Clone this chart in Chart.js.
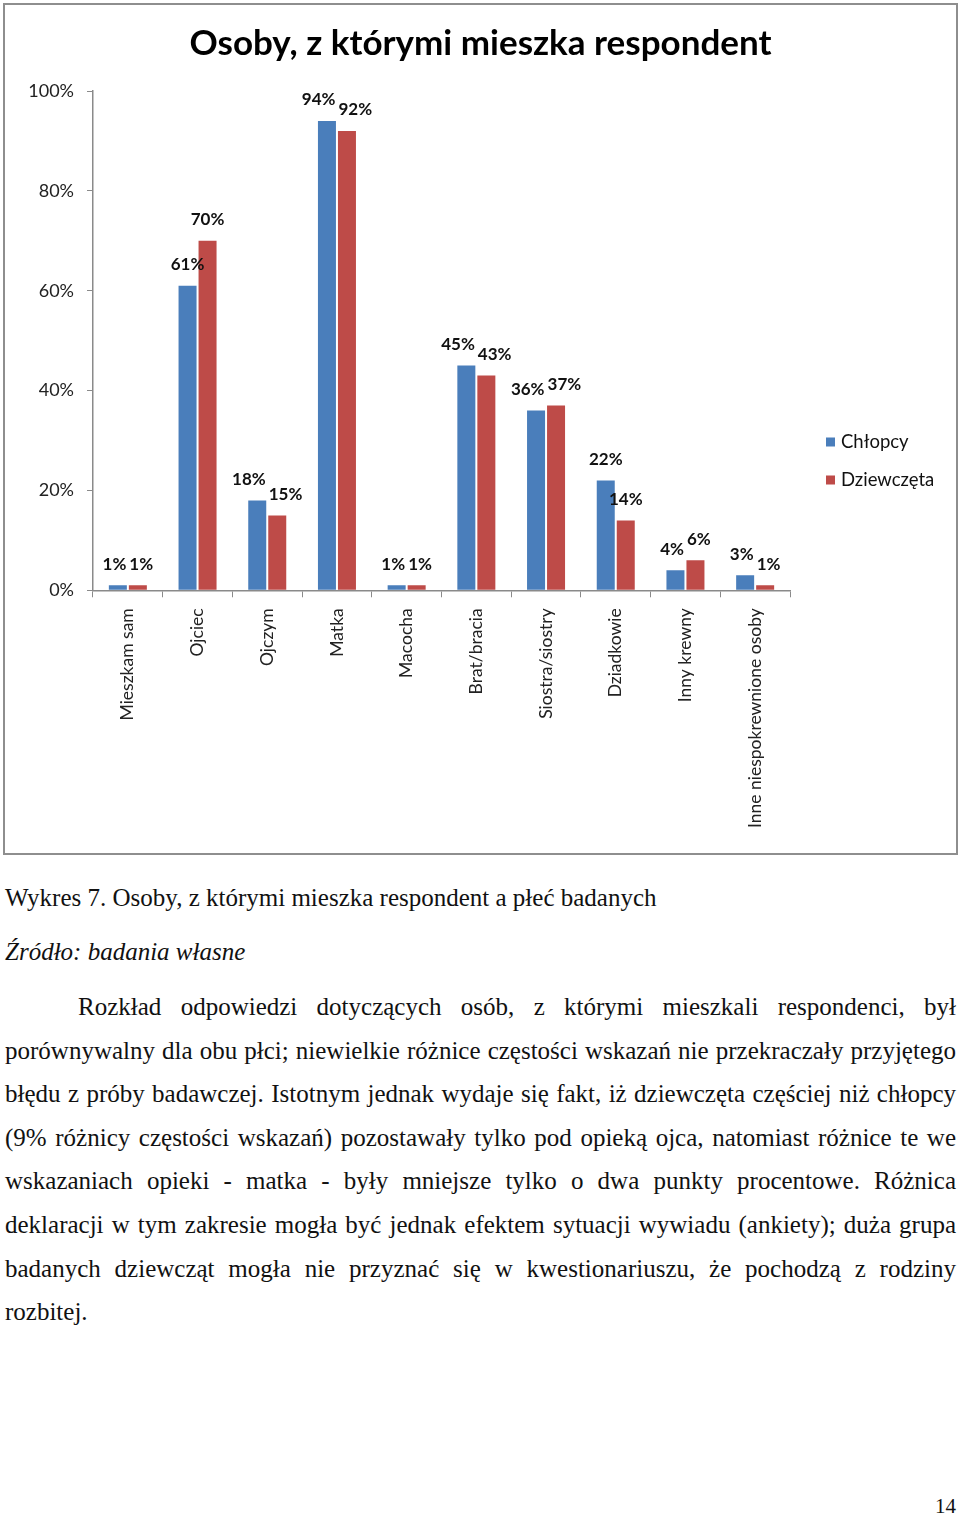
<!DOCTYPE html>
<html lang="pl">
<head>
<meta charset="utf-8">
<script src="https://cdn.jsdelivr.net/npm/chart.js@4.4.1/dist/chart.umd.min.js"></script>
<style>
  body { margin: 0; background: #fff; width: 960px; height: 1517px; position: relative; overflow: hidden; }
  #box { position: absolute; left: 3px; top: 3px; width: 951px; height: 848px; border: 2px solid #8e8e8e; }
  #box canvas { display: block; }
  .doc { position: absolute; left: 5px; width: 951px; font-family: "Liberation Serif", "Times New Roman", serif; font-size: 25px; color: #111; white-space: nowrap; }
  .cap { line-height: 30px; }
  .para div { line-height: 43.6px; text-align: justify; text-align-last: justify; word-spacing: -2px; }
  .para div.last { text-align-last: left; word-spacing: 0; }
  #page { position: absolute; right: 4px; top: 1494px; font-family: "Liberation Serif", serif; font-size: 21px; color: #111; }
</style>
</head>
<body>
<div id="box"><canvas id="chart" width="951" height="848"></canvas></div>

<div class="doc cap" style="top:883px">Wykres 7. Osoby, z którymi mieszka respondent a płeć badanych</div>
<div class="doc cap" style="top:937px"><i>Źródło: badania własne</i></div>
<div class="doc para" style="top:985px">
  <div style="padding-left:73px">Rozkład odpowiedzi dotyczących osób, z którymi mieszkali respondenci, był</div>
  <div>porównywalny dla obu płci; niewielkie różnice częstości wskazań nie przekraczały przyjętego</div>
  <div>błędu z próby badawczej. Istotnym jednak wydaje się fakt, iż dziewczęta częściej niż chłopcy</div>
  <div>(9% różnicy częstości wskazań) pozostawały tylko pod opieką ojca, natomiast różnice te we</div>
  <div>wskazaniach opieki - matka - były mniejsze tylko o dwa punkty procentowe. Różnica</div>
  <div>deklaracji w tym zakresie mogła być jednak efektem sytuacji wywiadu (ankiety); duża grupa</div>
  <div>badanych dziewcząt mogła nie przyznać się w kwestionariuszu, że pochodzą z rodziny</div>
  <div class="last">rozbitej.</div>
</div>
<div id="page">14</div>

<script>
const categories = ["Mieszkam sam", "Ojciec", "Ojczym", "Matka", "Macocha",
  "Brat/bracia", "Siostra/siostry", "Dziadkowie", "Inny krewny", "Inne niespokrewnione osoby"];
const boys = [1, 61, 18, 94, 1, 45, 36, 22, 4, 3];
const girls = [1, 70, 15, 92, 1, 43, 37, 14, 6, 1];
const yTicks = [0, 20, 40, 60, 80, 100];
const chartTitle = "Osoby, z którymi mieszka respondent";

const blue = "#4a7ebb";
const red = "#be4b48";
const axisGray = "#8a8a8a";

// value labels above the bars, pushed apart sideways when a pair collides
const barLabels = {
  id: "barLabels",
  afterDatasetsDraw(chart) {
    const ctx = chart.ctx;
    const m0 = chart.getDatasetMeta(0), m1 = chart.getDatasetMeta(1);
    ctx.save();
    ctx.font = "bold 17px Lato";
    ctx.fillStyle = "#111";
    ctx.textAlign = "center";
    ctx.textBaseline = "middle";
    categories.forEach((c, i) => {
      const a = m0.data[i], b = m1.data[i];
      const ta = boys[i] + "%", tb = girls[i] + "%";
      let xa = a.x, xb = b.x;
      const ya = a.y - 21, yb = b.y - 21;
      const wa = ctx.measureText(ta).width, wb = ctx.measureText(tb).width;
      if (Math.abs(ya - yb) < 16) {
        const need = (wa + wb) / 2 + 3 - (xb - xa);
        if (need > 0) { xa -= need / 2; xb += need / 2; }
      }
      ctx.fillText(ta, xa, ya);
      ctx.fillText(tb, xb, yb);
    });
    ctx.restore();
  }
};

// title centred on the whole box, legend on the right like the Excel one
const frame = {
  id: "frame",
  afterDraw(chart) {
    const ctx = chart.ctx;
    const area = chart.chartArea;
    ctx.save();
    ctx.fillStyle = "#000";
    ctx.font = "bold 35px Lato";
    ctx.textAlign = "center";
    ctx.textBaseline = "middle";
    ctx.fillText(chartTitle, chart.width / 2, 39);

    const x = area.right + 36;
    ctx.font = "18.5px Lato";
    ctx.textAlign = "left";
    chart.data.datasets.forEach((ds, i) => {
      const y = area.top + 351 + i * 38;
      ctx.fillStyle = ds.backgroundColor;
      ctx.fillRect(x, y - 4.5, 9, 9);
      ctx.fillStyle = "#111";
      ctx.fillText(ds.label, x + 15, y);
    });
    ctx.restore();
  }
};

new Chart(document.getElementById("chart"), {
  type: "bar",
  data: {
    labels: categories,
    datasets: [
      { label: "Chłopcy", data: boys, backgroundColor: blue, barPercentage: 0.9, categoryPercentage: 0.574 },
      { label: "Dziewczęta", data: girls, backgroundColor: red, barPercentage: 0.9, categoryPercentage: 0.574 }
    ]
  },
  options: {
    responsive: false,
    devicePixelRatio: 1,
    animation: false,
    layout: { padding: { left: 0, right: 166, bottom: 14, top: 86 } },
    plugins: {
      legend: { display: false },
      tooltip: { enabled: false },
      title: { display: false }
    },
    scales: {
      x: {
        grid: { display: true, drawOnChartArea: false, drawTicks: true, tickLength: 7, color: axisGray, offset: true },
        border: { color: axisGray, width: 1.5 },
        ticks: { minRotation: 90, maxRotation: 90, autoSkip: false, color: "#222", padding: 11,
                 font: { family: "Lato", size: 17.5 } }
      },
      y: {
        min: 0, max: 100,
        afterBuildTicks: s => { s.ticks = yTicks.map(v => ({ value: v })); },
        afterFit: s => { s.width = 88; },
        grid: { drawOnChartArea: false, tickLength: 6, color: axisGray },
        border: { color: axisGray, width: 1.5 },
        ticks: { callback: v => v + "%", color: "#222", padding: 13, font: { family: "Lato", size: 18 } }
      }
    }
  },
  plugins: [barLabels, frame]
});
</script>
</body>
</html>
